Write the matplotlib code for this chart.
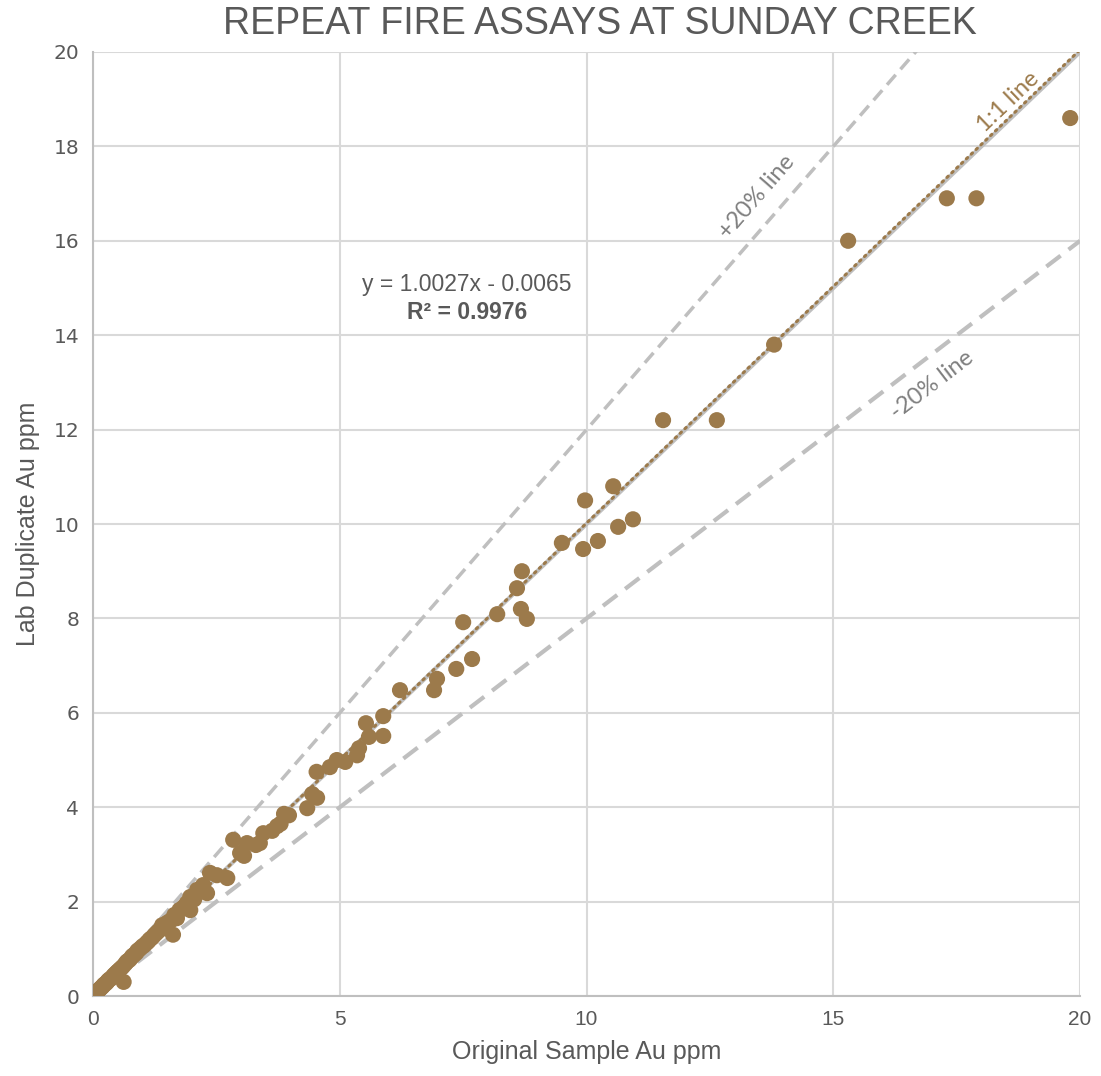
import matplotlib
matplotlib.use("Agg")
import matplotlib.pyplot as plt
import numpy as np

plt.rcParams['font.family'] = ['Liberation Sans', 'DejaVu Sans']

# original sample vs lab duplicate (Au ppm)
orig_au = [
    # low grade cluster
    0.01, 0.02, 0.03, 0.04, 0.05, 0.06, 0.08, 0.10, 0.12, 0.14,
    0.16, 0.18, 0.20, 0.22, 0.25, 0.28, 0.30, 0.33, 0.36, 0.40,
    0.42, 0.45, 0.48, 0.50, 0.53, 0.56, 0.60, 0.62, 0.65, 0.68,
    0.70, 0.74, 0.78, 0.80, 0.84, 0.88, 0.90, 0.95, 1.00, 1.03,
    1.08, 1.12, 1.15, 1.20, 1.25, 1.30, 1.35, 1.40, 1.45, 1.50,
    1.55, 1.60, 1.62, 1.65, 1.70, 1.75, 1.80, 1.85, 1.90, 1.97,
    1.97, 2.05, 2.11, 2.23, 2.31, 2.37, 2.51, 2.72, 2.84, 2.98,
    3.06, 3.12, 3.30, 3.38, 3.45, 3.63, 3.73, 3.80, 3.87, 3.97,
    # mid grade
    4.34, 4.44, 4.54, 4.53, 4.80, 4.94, 5.11, 5.35, 5.39, 5.53,
    5.59, 5.88, 5.88, 6.22, 6.91, 6.97, 7.36, 7.50, 7.68, 8.19,
    8.59, 8.67, 8.69, 8.79, 9.50, 9.93, 9.97, 10.23, 10.54, 10.64,
    10.94, 11.55, 12.64, 13.80, 15.30, 17.30, 17.90, 19.80,
]
dup_au = [
    0.02, 0.01, 0.03, 0.05, 0.04, 0.07, 0.09, 0.11, 0.13, 0.15,
    0.17, 0.19, 0.21, 0.24, 0.26, 0.29, 0.32, 0.35, 0.37, 0.41,
    0.44, 0.47, 0.50, 0.52, 0.55, 0.58, 0.62, 0.30, 0.68, 0.72,
    0.74, 0.77, 0.82, 0.85, 0.88, 0.92, 0.96, 1.00, 1.05, 1.07,
    1.12, 1.16, 1.20, 1.24, 1.30, 1.35, 1.40, 1.50, 1.48, 1.55,
    1.58, 1.62, 1.30, 1.72, 1.65, 1.82, 1.85, 1.90, 1.97, 2.10,
    1.82, 2.05, 2.25, 2.35, 2.18, 2.61, 2.56, 2.50, 3.31, 3.03,
    2.97, 3.24, 3.20, 3.24, 3.45, 3.50, 3.60, 3.65, 3.86, 3.83,
    3.98, 4.28, 4.20, 4.75, 4.85, 5.00, 4.96, 5.10, 5.25, 5.78,
    5.49, 5.93, 5.51, 6.48, 6.48, 6.72, 6.93, 7.92, 7.14, 8.09,
    8.64, 8.20, 9.00, 7.99, 9.60, 9.47, 10.50, 9.64, 10.80, 9.94,
    10.10, 12.20, 12.20, 13.80, 16.00, 16.90, 16.90, 18.60,
]

slope, intercept, r2 = 1.0027, -0.0065, 0.9976
ticks_x = [0, 5, 10, 15, 20]
ticks_y = [0, 2, 4, 6, 8, 10, 12, 14, 16, 18, 20]

brown = '#9C7A4B'
grey_line = '#BFBFBF'
text_grey = '#595959'

fig = plt.figure(figsize=(11.01, 10.76), dpi=100)
ax = fig.add_axes([0.0845, 0.0743, 0.8965, 0.8774])

ax.set_xlim(0, 20)
ax.set_ylim(0, 20)

# reference lines
xx = np.array([0, 20])
ax.plot(xx, xx, color=grey_line, lw=3, zorder=2)
ax.plot(xx, 1.2 * xx, color=grey_line, lw=2.5, ls=(0, (3.8, 2.1)), zorder=2)
ax.plot(xx, 0.8 * xx, color=grey_line, lw=3, ls=(0, (4.3, 2.4)), zorder=2)

ax.scatter(orig_au, dup_au, s=135, color=brown, edgecolors='none', zorder=3)

# trendline
ax.plot(xx, slope * xx + intercept, color=brown, lw=2.2, ls=(0, (0.6, 1.6)),
        dash_capstyle='round', zorder=4)

ax.text(18.55, 18.95, '1:1 line', color=brown, fontsize=17, family='Lato',
        rotation=43.7, ha='center', va='center', zorder=5)
ax.text(13.45, 16.93, '+20% line', color='#808080', fontsize=17, family='Lato',
        rotation=48.9, ha='center', va='center', zorder=5)
ax.text(17.0, 12.94, '-20% line', color='#808080', fontsize=17, family='Lato',
        rotation=37.4, ha='center', va='center', zorder=5)

ax.text(7.58, 15.08, 'y = 1.0027x - 0.0065', color=text_grey, fontsize=16.5,
        ha='center', va='center', zorder=5)
ax.text(7.58, 14.48, 'R² = %.4f' % r2, color=text_grey, fontsize=16.5,
        fontweight='bold', ha='center', va='center', zorder=5)

# grid and frame
ax.set_xticks(ticks_x)
ax.set_yticks(ticks_y)
ax.grid(True, color='#D9D9D9', lw=1.5, zorder=0)
ax.set_axisbelow(True)
for side in ['top', 'right']:
    ax.spines[side].set_visible(False)
for side in ['left', 'bottom']:
    ax.spines[side].set_color('#BFBFBF')
    ax.spines[side].set_linewidth(1.5)
ax.tick_params(length=0, pad=10)
for lab in ax.get_xticklabels():
    lab.set_fontsize(15)
    lab.set_color(text_grey)
for lab in ax.get_yticklabels():
    lab.set_fontsize(14.5)
    lab.set_color(text_grey)
    lab.set_family('DejaVu Sans')

ax.set_xlabel('Original Sample Au ppm', fontsize=18, color=text_grey, labelpad=8)
ax.set_ylabel('Lab Duplicate Au ppm', fontsize=18, color=text_grey, labelpad=10)

fig.text(0.545, 0.978, 'REPEAT FIRE ASSAYS AT SUNDAY CREEK', fontsize=27,
         color=text_grey, ha='center', va='center')

fig.savefig('out.png', dpi=100)
